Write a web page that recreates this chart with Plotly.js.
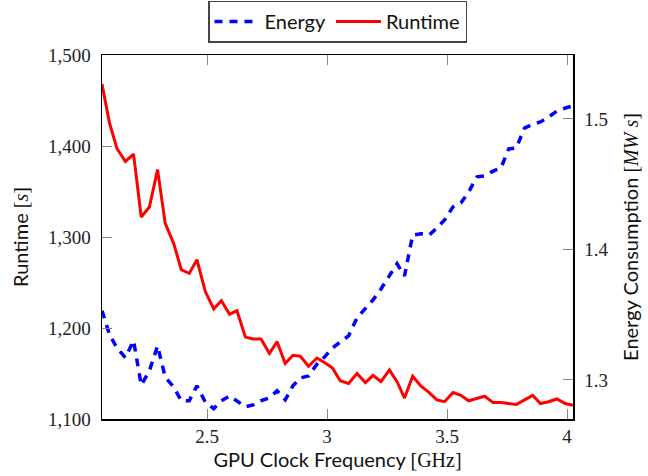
<!DOCTYPE html>
<html>
<head>
<meta charset="utf-8">
<script src="https://cdn.plot.ly/plotly-3.0.1.min.js"></script>
<style>html,body{margin:0;padding:0;background:#fff;}#chart{width:648px;height:476px;}</style>
</head>
<body>
<div id="chart"></div>
<script>
const freq = [2.0625, 2.094, 2.125, 2.160, 2.194, 2.226, 2.260, 2.294, 2.326, 2.361,
  2.393, 2.426, 2.458, 2.493, 2.528, 2.560, 2.594, 2.625, 2.660, 2.692,
  2.725, 2.760, 2.792, 2.826, 2.858, 2.889, 2.923, 2.958, 2.990, 3.023,
  3.055, 3.090, 3.125, 3.160, 3.192, 3.225, 3.260, 3.292, 3.323, 3.357,
  3.392, 3.426, 3.458, 3.490, 3.525, 3.558, 3.590, 3.625, 3.657, 3.692,
  3.725, 3.757, 3.789, 3.823, 3.857, 3.889, 3.923, 3.958, 3.993, 4.025];
const runtime = [1468, 1425, 1397, 1383, 1391, 1322, 1333, 1374, 1315, 1293,
  1264, 1260, 1275, 1240, 1221, 1230, 1215, 1219, 1190, 1188,
  1188, 1172, 1185, 1161, 1170, 1169, 1158, 1167, 1162, 1156,
  1142, 1139, 1150, 1140, 1148, 1141, 1154, 1141, 1123, 1147,
  1136, 1129, 1121, 1119, 1129, 1126, 1120, 1123, 1125, 1118,
  1118, 1117, 1116, 1121, 1126, 1117, 1119, 1122, 1117, 1115];
const energy = [1.353, 1.3345, 1.3245, 1.317, 1.330, 1.296, 1.307, 1.326, 1.302, 1.2946,
  1.284, 1.284, 1.2954, 1.283, 1.278, 1.284, 1.2877, 1.284, 1.2793, 1.2808,
  1.284, 1.2862, 1.2916, 1.2847, 1.2954, 1.3015, 1.303, 1.312, 1.3176, 1.3245,
  1.329, 1.3337, 1.3475, 1.355, 1.3613, 1.3697, 1.380, 1.389, 1.3797, 1.411,
  1.412, 1.411, 1.4165, 1.4226, 1.4326, 1.4356, 1.444, 1.4556, 1.4563, 1.460,
  1.4625, 1.477, 1.4778, 1.493, 1.496, 1.4977, 1.5015, 1.506, 1.5084, 1.51];
const xTicks = [2.5, 3, 3.5, 4];
const xTickText = ['2.5', '3', '3.5', '4'];
const runtimeTicks = [1100, 1200, 1300, 1400, 1500];
const runtimeTickText = ['1,100', '1,200', '1,300', '1,400', '1,500'];
const energyTicks = [1.3, 1.4, 1.5];
const energyTickText = ['1.3', '1.4', '1.5'];
const seriesNames = ['Energy', 'Runtime'];

const serif = 'Liberation Serif, DejaVu Serif, serif';
const sans = 'Lato, Open Sans, sans-serif';

const traces = [
  {x: freq, y: energy, yaxis: 'y2', mode: 'lines', name: seriesNames[0],
   line: {color: '#0000ff', width: 3.5, dash: '8px,7px'}},
  {x: freq, y: runtime, mode: 'lines', name: seriesNames[1],
   line: {color: '#ff0000', width: 3}}
];

const tickStyle = {ticks: 'inside', ticklen: 10, tickwidth: 1, tickcolor: '#888',
  showline: true, linecolor: '#000', linewidth: 1.5, showgrid: false, zeroline: false,
  tickfont: {family: serif, size: 19, color: '#222'}};

const layout = {
  width: 648, height: 476,
  margin: {l: 102, r: 75, t: 55, b: 57, autoexpand: false},
  paper_bgcolor: '#fff', plot_bgcolor: '#fff',
  showlegend: true,
  legend: {orientation: 'h', x: 0.5, xanchor: 'center', y: 1.034, yanchor: 'bottom',
    bordercolor: '#444', borderwidth: 1.5, bgcolor: '#fff', itemwidth: 45,
    font: {family: sans, size: 20, color: '#111'}},
  xaxis: Object.assign({}, tickStyle, {
    range: [2.0625, 4.025], tickvals: xTicks, ticktext: xTickText, mirror: 'ticks',
    title: {text: 'GPU Clock Frequency <span style="font-family:Liberation Serif">[GHz]</span>',
      font: {family: sans, size: 20, color: '#111'}, standoff: 4}
  }),
  yaxis: Object.assign({}, tickStyle, {
    range: [1100, 1500], tickvals: runtimeTicks, ticktext: runtimeTickText,
    ticklabelstandoff: 6,
    title: {text: 'Runtime <span style="font-family:Liberation Serif">[<i>s</i>]</span>',
      font: {family: sans, size: 20, color: '#111'}, standoff: 14}
  }),
  yaxis2: Object.assign({}, tickStyle, {
    overlaying: 'y', side: 'right',
    range: [1.270, 1.549], tickvals: energyTicks, ticktext: energyTickText,
    ticklabelstandoff: 6,
    title: {text: 'Energy Consumption <span style="font-family:Liberation Serif">[<i>MW s</i>]</span>',
      font: {family: sans, size: 20, color: '#111'}, standoff: 16}
  })
};

Plotly.newPlot('chart', traces, layout, {displayModeBar: false, staticPlot: true});
</script>
</body>
</html>
